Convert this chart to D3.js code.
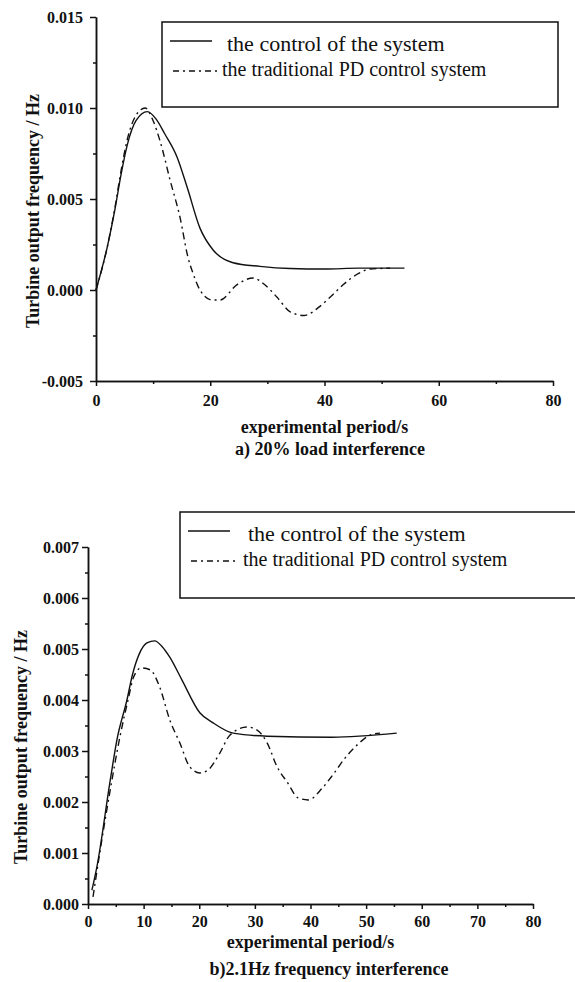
<!DOCTYPE html>
<meta charset="utf-8">
<script src="https://d3js.org/d3.v7.min.js"></script>
<style>
  body { margin: 0; background: #fff; }
  text { font-family: "Liberation Serif", "Times New Roman", serif; fill: #111; }
</style>
<div id="my_dataviz"></div>
<script>

// legend names
var seriesNames = ["the control of the system", "the traditional PD control system"];

// a) 20% load interference : [time, frequency]
var aControl = [
  [0, 0.0000], [2, 0.0024], [3.3, 0.0044], [4.3, 0.0062], [5.5, 0.0080], [7, 0.0093],
  [9, 0.0098], [10.5, 0.0094], [12, 0.0086], [14.2, 0.0073], [16, 0.0056], [18.2, 0.0034],
  [20.5, 0.0022], [24, 0.0015], [28.7, 0.0013], [34, 0.00118], [40, 0.00115], [46, 0.0012], [54, 0.0012]
];
var aPD = [
  [0, 0.0000], [2, 0.0024], [3.3, 0.0045], [4.3, 0.0064], [5.5, 0.0083], [7, 0.0096],
  [8.6, 0.0100], [10, 0.0093], [11.2, 0.0082], [13, 0.0060], [14.7, 0.0040], [16.1, 0.0018],
  [17, 0.0009], [18.2, 0.0000], [20.3, -0.00055], [21.7, -0.00055], [24.7, 0.0003], [27.5, 0.00066],
  [29.5, 0.0003], [31.7, -0.0004], [34, -0.0012], [36.4, -0.0014], [39.2, -0.0009], [41.3, -0.0003],
  [43.3, 0.0003], [45.9, 0.0009], [48, 0.00115], [51.5, 0.0012]
];
var aXTicks = [0, 20, 40, 60, 80];
var aYTicks = [-0.005, 0.000, 0.005, 0.010, 0.015];

// b) 2.1Hz frequency interference
var bControl = [
  [0.7, 0.00027], [1.6, 0.00073], [4, 0.00243], [5.2, 0.00322], [7, 0.0040], [8, 0.0045],
  [9.2, 0.0049], [10.6, 0.00512], [12, 0.00516], [13.3, 0.00505], [14.7, 0.00484], [16.9, 0.00439],
  [20.1, 0.00375], [22.5, 0.00355], [26.1, 0.00335], [32.2, 0.00329], [43.9, 0.00327], [55.5, 0.00335]
];
var bPD = [
  [0.9, 0.00014], [2.2, 0.00106], [4, 0.00224], [5.8, 0.00331], [7.2, 0.0040], [8.2, 0.00445],
  [9.6, 0.00463], [11.2, 0.00459], [12.9, 0.00425], [14.7, 0.00361], [16.5, 0.00316], [18.3, 0.00269],
  [20.1, 0.00257], [21.6, 0.00263], [23.7, 0.00296], [25.5, 0.00331], [28.6, 0.00347], [30.4, 0.00341],
  [32.2, 0.00316], [34, 0.00269], [35.8, 0.00239], [37.8, 0.00208], [39.6, 0.00204], [42.1, 0.00227],
  [44, 0.00253], [46.2, 0.00286], [48.4, 0.00312], [50.7, 0.00331], [52.5, 0.00335]
];
var bXTicks = [0, 10, 20, 30, 40, 50, 60, 70, 80];
var bYTicks = [0.000, 0.001, 0.002, 0.003, 0.004, 0.005, 0.006, 0.007];

var xTitle = "experimental period/s";
var yTitle = "Turbine output frequency / Hz";
var captions = ["a) 20%  load interference", "b)2.1Hz frequency interference"];

var svg = d3.select("#my_dataviz")
  .append("svg")
    .attr("width", 575)
    .attr("height", 982);

// plain hyphen for negatives, like the original
var yFmt = function(d) { return d3.format(".3f")(d).replace("\u2212", "-"); };

function drawPanel(p) {
  var x = d3.scaleLinear().domain([0, 80]).range([p.left, p.right]);
  var y = d3.scaleLinear().domain(p.yDomain).range([p.bottom, p.top]);
  var g = svg.append("g");

  // minor ticks (halfway between majors)
  var xMinor = p.xTicks.slice(0, -1).map(function(d, i) { return (d + p.xTicks[i + 1]) / 2; });
  var yMinor = p.yTicks.slice(0, -1).map(function(d, i) { return (d + p.yTicks[i + 1]) / 2; });

  g.append("g")
    .attr("transform", "translate(0," + p.bottom + ")")
    .call(d3.axisBottom(x).tickValues(xMinor).tickFormat("").tickSize(3).tickSizeOuter(0));
  g.append("g")
    .attr("transform", "translate(" + p.left + ",0)")
    .call(d3.axisLeft(y).tickValues(yMinor).tickFormat("").tickSize(3).tickSizeOuter(0));

  g.append("g")
    .attr("transform", "translate(0," + p.bottom + ")")
    .call(d3.axisBottom(x).tickValues(p.xTicks).tickFormat(d3.format("d"))
      .tickSize(5).tickSizeOuter(0).tickPadding(p.xPad));
  g.append("g")
    .attr("transform", "translate(" + p.left + ",0)")
    .call(d3.axisLeft(y).tickValues(p.yTicks).tickFormat(yFmt)
      .tickSize(6).tickSizeOuter(0).tickPadding(p.yPad));

  g.selectAll(".domain, .tick line").attr("stroke", "#111").attr("stroke-width", 1.5);
  g.selectAll(".tick text")
    .style("font-family", "'Liberation Serif', serif")
    .style("font-size", "16px")
    .style("font-weight", "bold")
    .attr("fill", "#222");

  // axis titles
  g.append("text")
    .attr("x", (p.left + p.right) / 2)
    .attr("y", p.xTitleY)
    .attr("text-anchor", "middle")
    .style("font-size", "18px").style("font-weight", "bold")
    .text(xTitle);
  g.append("text")
    .attr("transform", "translate(" + p.yTitleX + "," + p.yTitleY + ") rotate(-90)")
    .attr("text-anchor", "middle")
    .attr("dy", "0.35em")
    .style("font-size", "18px").style("font-weight", "bold")
    .text(yTitle);
  g.append("text")
    .attr("x", p.captionX)
    .attr("y", p.captionY)
    .attr("text-anchor", "middle")
    .style("font-size", "18px").style("font-weight", "bold")
    .text(p.caption);

  // curves
  var line = d3.line()
    .x(function(d) { return x(d[0]); })
    .y(function(d) { return y(d[1]); })
    .curve(d3.curveMonotoneX);
  g.append("path").datum(p.control)
    .attr("d", line).attr("fill", "none")
    .attr("stroke", "#111").attr("stroke-width", 1.4);
  g.append("path").datum(p.pd)
    .attr("d", line).attr("fill", "none")
    .attr("stroke", "#111").attr("stroke-width", 1.4)
    .attr("stroke-dasharray", "7,4,2,4");

  // legend
  var L = p.legend;
  g.append("rect")
    .attr("x", L.x).attr("y", L.y).attr("width", L.w).attr("height", L.h)
    .attr("fill", "none").attr("stroke", "#111").attr("stroke-width", 1.5);
  g.append("line")
    .attr("x1", L.x + 8).attr("x2", L.x + 50).attr("y1", L.y + 19).attr("y2", L.y + 19)
    .attr("stroke", "#111").attr("stroke-width", 1.4);
  g.append("line")
    .attr("x1", L.x + 11).attr("x2", L.x + 56).attr("y1", L.y + 49).attr("y2", L.y + 49)
    .attr("stroke", "#111").attr("stroke-width", 1.6).attr("stroke-dasharray", "6,4,2,4");
  g.append("text")
    .attr("x", L.x + L.t1).attr("y", L.y + 29)
    .style("font-size", L.f1 + "px")
    .text(seriesNames[0]);
  g.append("text")
    .attr("x", L.x + L.t2).attr("y", L.y + 54)
    .style("font-size", L.f2 + "px")
    .text(seriesNames[1]);
}

drawPanel({
  left: 96, right: 553, top: 17, bottom: 381,
  yDomain: [-0.005, 0.015], xTicks: aXTicks, yTicks: aYTicks,
  xPad: 9, yPad: 7,
  xTitleY: 433, yTitleX: 33, yTitleY: 211,
  caption: captions[0], captionX: 330, captionY: 455,
  control: aControl, pd: aPD,
  legend: {x: 162, y: 22, w: 396, h: 85, t1: 65, t2: 60, f1: 22, f2: 20}
});

drawPanel({
  left: 88, right: 533, top: 547, bottom: 904,
  yDomain: [0, 0.007], xTicks: bXTicks, yTicks: bYTicks,
  xPad: 7, yPad: 3,
  xTitleY: 948, yTitleX: 21, yTitleY: 747,
  caption: captions[1], captionX: 329, captionY: 975,
  control: bControl, pd: bPD,
  legend: {x: 180, y: 512, w: 420, h: 86, t1: 68, t2: 63, f1: 22, f2: 20}
});

</script>
